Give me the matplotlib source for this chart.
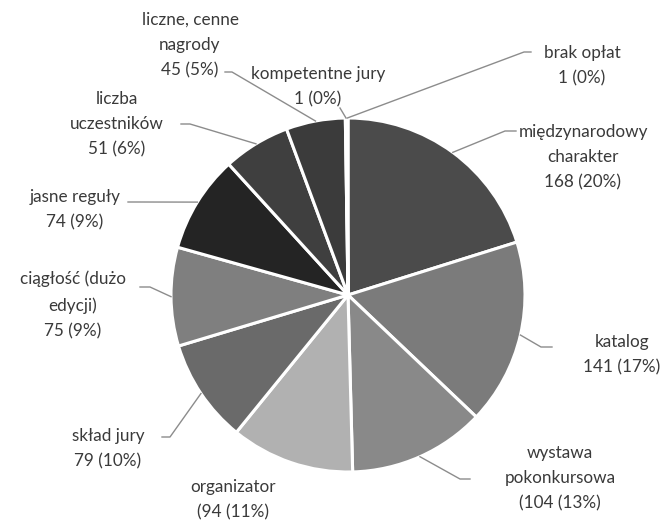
import numpy as np
import matplotlib.pyplot as plt

# ==========================================================
# DATA
# ==========================================================

labels = [
    "międzynarodowy\ncharakter\n168 (20%)",
    "katalog\n141 (17%)",
    "wystawa\npokonkursowa\n(104 (13%)",
    "organizator\n(94 (11%)",
    "skład jury\n79 (10%)",
    "ciągłość (dużo\nedycji)\n75 (9%)",
    "jasne reguły\n74 (9%)",
    "liczba\nuczestników\n51 (6%)",
    "liczne, cenne\nnagrody\n45 (5%)",
    "kompetentne jury\n1 (0%)",
    "brak opłat\n1 (0%)",
]
values = [168, 141, 104, 94, 79, 75, 74, 51, 45, 1, 1]
colors = ["#4b4b4b", "#7b7b7b", "#898989", "#b1b1b1", "#6a6a6a", "#7f7f7f",
          "#242424", "#3f3f3f", "#3b3b3b", "#555555", "#666666"]

# label text positions (pixels, top-left origin) and leader start / elbow
text_pos = [(583, 157), (622, 355), (560, 478), (233, 500), (108, 449),
            (73, 305), (75, 210), (117, 124), (190, 45), (318, 87), (582, 66)]
leader = [
    ((516, 131), 505),
    ((552, 347), 541),
    ((470, 479), 460),
    None,
    ((162, 437), 170),
    ((140, 287), 150),
    ((128, 202), 138),
    ((181, 124), 190),
    ((225, 72), 232),
    None,
    ((531, 52), 524),
]

W, H = 672, 520
cx, cy, r = 348, 295, 177

fig = plt.figure(figsize=(6.72, 5.2), dpi=100)
ax = fig.add_axes([0, 0, 1, 1])

wedges, _ = ax.pie(
    values,
    colors=colors,
    startangle=90,
    counterclock=False,
    center=(cx, H - cy),
    radius=r,
    wedgeprops=dict(edgecolor="white", linewidth=2.2),
    frame=True,
)
ax.set_xlim(0, W)
ax.set_ylim(0, H)
ax.set_aspect("equal")
ax.axis("off")

for w, lab, (tx, ty), ld in zip(wedges, labels, text_pos, leader):
    ax.text(tx, H - ty, lab, ha="center", va="center", fontsize=12.3,
            family="Lato", color="#3a3a3a", linespacing=1.72)
    ang = np.deg2rad((w.theta1 + w.theta2) / 2)
    ex = cx + r * np.cos(ang)
    ey = H - cy + r * np.sin(ang)
    if ld is not None:
        (x0, y0), xe = ld
        ax.plot([x0, xe, ex], [H - y0, H - y0, ey], color="#8c8c8c", lw=1)

# kompetentne jury leader goes straight to its slice
w = wedges[9]
ang = np.deg2rad((w.theta1 + w.theta2) / 2)
ax.plot([340, cx + r * np.cos(ang)], [H - 108, H - cy + r * np.sin(ang)],
        color="#8c8c8c", lw=1)

fig.savefig("out.png", dpi=100, facecolor="white")
